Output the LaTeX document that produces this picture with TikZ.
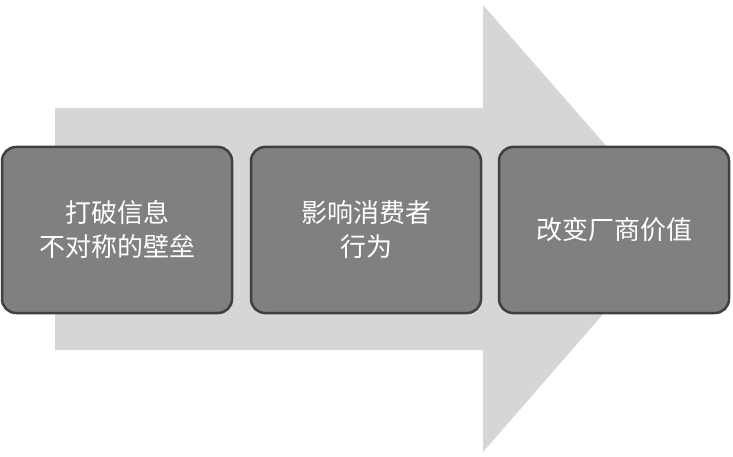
\documentclass[tikz,border=0pt]{standalone}
\usepackage{fontspec}
\newfontfamily\cjk{Noto Sans CJK SC}
\tikzset{stagebox/.style={draw=black!75,line width=2.5pt,fill=black!50,rounded corners=14pt,minimum width=230pt,minimum height=166pt,text=white,font=\cjk\fontsize{26}{34}\selectfont,align=center}}
\begin{document}
\begin{tikzpicture}[x=1pt,y=-1pt]
\useasboundingbox (0,0) rectangle (733,457);
\fill[black!16] (55,108) -- (483,108) -- (483,5) -- (678,228) -- (483,452) -- (483,350) -- (55,350) -- cycle;
\node[stagebox] (a) at (117,230) {打破信息\\不对称的壁垒};
\node[stagebox] (b) at (366,230) {影响消费者\\行为};
\node[stagebox] (c) at (614,230) {改变厂商价值};
\end{tikzpicture}
\end{document}
